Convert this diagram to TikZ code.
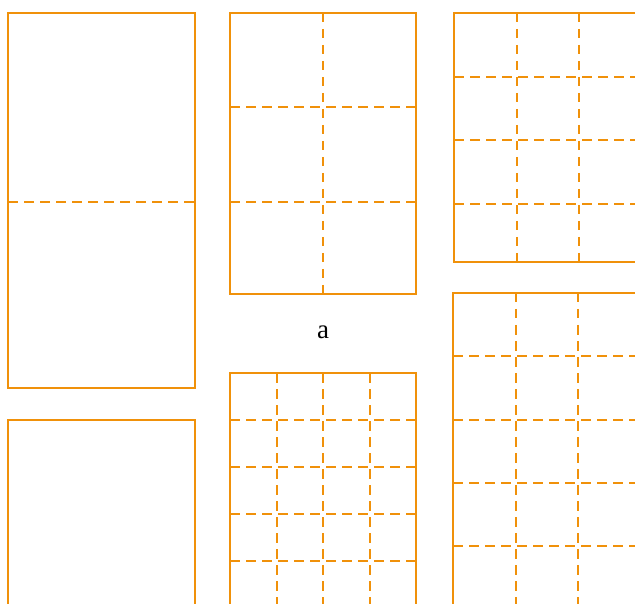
\documentclass[tikz,border=0pt]{standalone}
\usepackage{fontspec}
\setmainfont{Liberation Serif}
\definecolor{foldcol}{RGB}{240,145,10}

\begin{document}
\begin{tikzpicture}[
  x=1pt, y=-1pt,
  every node/.style={font=\fontsize{27}{30}\selectfont},
  sheet/.style={draw=foldcol, line width=2.3pt},
  fold/.style={draw=foldcol, line width=2pt, dash pattern=on 9.5pt off 6.5pt}
]
\useasboundingbox (0,0) rectangle (635,604);
\clip (0,0) rectangle (635,604);

% ---------------- left column ----------------
\draw[fold] (8,202) -- (195,202);
\draw[sheet] (8,13) rectangle (195,388);
\draw[sheet] (8,420) rectangle (195,800);

% ---------------- middle column ----------------
\draw[fold] (323,13) -- (323,294);
\foreach \y in {107,202} \draw[fold] (230,\y) -- (416,\y);
\draw[sheet] (230,13) rectangle (416,294);

\node (lbl) at (323,332) {a};

\foreach \x in {277,323,370} \draw[fold] (\x,373) -- (\x,660);
\foreach \y in {420,467,514,561} \draw[fold] (230,\y) -- (416,\y);
\draw[sheet] (230,373) rectangle (416,660);

% ---------------- right column ----------------
\foreach \x in {517,579} \draw[fold] (\x,13) -- (\x,262);
\foreach \y in {77,140,204} \draw[fold] (454,\y) -- (660,\y);
\draw[sheet] (454,13) rectangle (641,262);

\foreach \x in {516,578} \draw[fold] (\x,293) -- (\x,660);
\foreach \y in {356,420,483,546} \draw[fold] (453,\y) -- (660,\y);
\draw[sheet] (453,293) rectangle (641,660);

\end{tikzpicture}
\end{document}
